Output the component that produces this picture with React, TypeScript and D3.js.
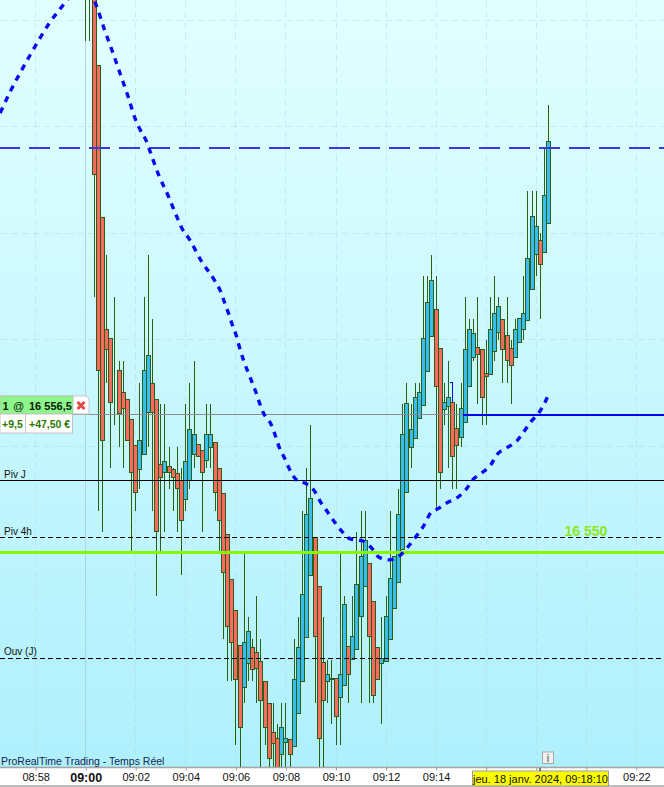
import React, { useEffect, useRef } from 'react';
import * as d3 from 'd3';

const WIDTH = 664;
const HEIGHT = 787;
const PLOT_BOTTOM = 767;

// all prices below are points above this level, one candle every 10 seconds from 09:00:00
const BASE_PRICE = 16550;
const CANDLE_STEP_MIN = 1 / 6;

const opens = [
  30, 29, 27.5, 22.89, 15.72, 10.51, 10.05, 8.55, 8.55, 7.56, 7.19, 6.25, 5.03, 3.91, 4.61, 6.58,
  7.94, 7.19, 4.14, 3.81, 4.09, 3.95, 3.76, 3.39, 2.5, 3.39, 4.61, 5.08, 4.8, 4.33, 4.94, 5.18,
  3.97, 2.78, 0.86, -1.25, -2.69, -4.3, -6.27, -5.19, -4.44, -4.67, -5.05, -5.99, -7.06, -8.38, -8.66, -9.41,
  -8.85, -8.71, -9.08, -7.49, -5.99, -3.97, -1.06, 0.76, -1.58, -5.14, -6.03, -5.85, -5.89, -6.78, -6.22, -4.35,
  -5, -4.49, -2.94, -1.58, -0.5, -2.24, -4.44, -5.19, -5.05, -4.02, -2.61, -1.39, 0.2, 2.87, 4.98, 5.36,
  6.34, 6.95, 8.5, 10.14, 11.45, 9.62, 6.72, 6.86, 7.09, 5.83, 5.45, 6.11, 7.84, 9.2, 9.67, 9.53,
  8.41, 8.36, 9.44, 10.37, 10.94, 10.23, 9.62, 9.2, 9.86, 10.47, 10.89, 12.35, 14.03, 14.64, 14.08, 15.44,
];
const closes = [
  28, 27, 17.78, 8.55, 5.31, 9.53, 7.05, 8.55, 6.53, 6.78, 5.31, 3.81, 2.83, 5.31, 8.55, 9.25,
  6.58, 1, 3.53, 4.28, 3.81, 3.53, 3.06, 1.53, 4.28, 5.78, 5.55, 4.56, 3.78, 5.55, 5.55, 2.83,
  1.53, -0.92, -3.41, -4.16, -5.94, -8.19, -4.16, -3.69, -5.47, -5.42, -6.92, -8.19, -9.64, -8.94, -10.39, -8.19,
  -8.66, -9.41, -5.94, -4.44, -1.95, 1.8, 2.55, -3.91, -8.66, -6.92, -5.66, -5.94, -7.67, -5.66, -2.42, -5.66,
  -3.92, -1.44, -0.17, 0.58, -3.92, -6.69, -5.94, -4.91, -2.94, -1.2, -0.17, 1.8, 5.55, 7, 5.78, 7.28,
  7.56, 10.05, 11.78, 12.77, 7.8, 3.81, 7.05, 7.28, 4.56, 5.03, 6.81, 9.53, 10.51, 10.28, 9.3, 7.28,
  8.31, 10.51, 11.26, 11.55, 9.53, 9.06, 8.78, 10.51, 11.03, 11.26, 13.8, 15.77, 15.3, 13.52, 16.75, 19.29,
];
const highs = [
  31, 30, 28, 22.89, 15.72, 14, 10.05, 12, 9, 9, 7.19, 6.25, 5.03, 8, 12, 14,
  11, 7.19, 7, 7, 5, 4, 5, 4, 7, 8, 9, 5.08, 4.8, 7, 7, 5.18,
  3.97, 2.78, 0.86, -1.25, -2.69, -4.3, 0, -3, -4, -2, -4, -5.99, -7, -7, -8, -7,
  -7, -8.71, -4, -3, 2, 4, 6, 0.76, -1.58, -3, -5, -5, -5.89, 0, -2, -4.35,
  -2, 1, 2, 2, -0.5, -2.24, -4.44, -3, -2, 2, -0.17, 3, 7, 8, 7, 8,
  8, 13, 13, 14, 13, 9.62, 8, 9, 7.09, 7, 8, 12, 11, 11, 12, 9.53,
  10, 12, 13, 12, 10.94, 12, 10, 11, 11.03, 13, 17, 17, 17, 15, 19, 21,
];
const lows = [
  24, 24, 12, 2, 1, 8, 4, 6, 5, 4, 5.31, 0, 2, 3, 4.61, 5,
  2, -2, 0, 1, 3, 2, 1, -1, 2, 3, 4, 4.56, 1, 4, 4, 2,
  0, -4, -6, -6, -9, -10, -7, -6, -6, -7, -10, -9, -10, -10, -11, -10,
  -10, -10, -9.08, -7.49, -5.99, -3.97, -1.06, -7, -10, -10, -7, -8, -9, -9, -6.22, -7,
  -5, -4.49, -7, -1.58, -7, -7, -5.94, -8, -5.05, -4.02, -2.61, -1.39, 0.2, 2.87, 4, 5.36,
  6.34, 6.95, 8.5, 10.14, 2, 3, 6, 4, 3, 3, 5, 6.11, 7.84, 9, 7, 6,
  6, 8.36, 9, 10, 8, 8, 7, 9.2, 9.86, 10, 10.89, 12.35, 13, 11, 14.08, 15.44,
];

// moving average: minutes from 09:00, points above base
const maMinutes = [
  -3.42, -3.02, -2.62, -2.22, -1.82, -1.42, -1.02, -0.74, -0.22, 0.1, 0.42, 0.74, 1.06, 1.38, 1.7, 1.98,
  2.18, 2.42, 2.58, 2.9, 3.3, 3.66, 3.86, 4.14, 4.62, 5.14, 5.38, 5.54, 5.7, 5.86, 6.02, 6.14,
  6.78, 7.1, 7.42, 7.58, 7.74, 7.94, 8.14, 8.42, 8.82, 9.14, 9.38, 9.66, 9.94, 10.22, 10.58, 11.06,
  11.42, 11.7, 12.14, 12.58, 12.9, 13.18, 13.5, 13.78, 14.06, 14.42, 14.82, 15.18, 15.46, 15.82, 16.18, 16.42,
  16.82, 17.22, 17.5, 17.78, 18.1, 18.34, 18.5,
];
const maValues = [
  20.64, 21.63, 22.52, 23.36, 24.16, 24.91, 25.52, 25.94, 26.78, 26.5, 25.7, 24.58, 23.55, 22.47, 21.39, 20.36,
  19.84, 19.33, 18.81, 17.78, 16.75, 15.72, 15.2, 14.73, 13.7, 12.81, 12.3, 11.78, 11.27, 10.7, 10.19, 9.67,
  7.61, 6.58, 6.01, 5.5, 4.94, 4.47, 3.95, 3.44, 3.25, 2.92, 2.41, 1.94, 1.47, 1.05, 0.67, 0.58,
  0.25, -0.17, -0.31, -0.08, 0.34, 0.76, 1.28, 1.89, 2.08, 2.36, 2.59, 2.97, 3.44, 3.76, 4.14, 4.61,
  4.94, 5.26, 5.69, 6.16, 6.58, 7.05, 7.47,
];

const tickMinutes = [-2, 0, 2, 4, 6, 8, 10, 12, 14, 16, 18, 20, 22];
// 09:16 to 09:20 sit behind the yellow cursor date
const tickLabels = ['08:58', '09:00', '09:02', '09:04', '09:06', '09:08', '09:10', '09:12', '09:14', '', '', '', '09:22'];
const gridPoints = [25, 20, 15, 10, 5, 0, -5, -10];

const blueDashedLevel = 19;
const positionLevel = 6.5;
const alertLevel = 0.06;
const pivotLevels = [
  { label: 'Piv J', value: 3.39, dash: null },
  { label: 'Piv 4h', value: 0.72, dash: '5,3' },
  { label: 'Ouv (J)', value: -4.91, dash: '5,3' },
];

const FONT = '"Liberation Sans", Arial, sans-serif';
const WICK = '#2b5f12';

const App: React.FC = () => {
  const svgRef = useRef<SVGSVGElement>(null);

  useEffect(() => {
    if (!svgRef.current) return;
    const svg = d3.select(svgRef.current);
    svg.selectAll('*').remove();

    const x = d3.scaleLinear().domain([-3.424, 23.104]).range([0, WIDTH]);
    const y = d3.scaleLinear().domain([BASE_PRICE - 10, BASE_PRICE + 25]).range([766.6, 20]);
    const py = (points: number) => y(BASE_PRICE + points);
    const snap = (v: number) => Math.floor(v) + 0.5;

    const defs = svg.append('defs');
    const grad = defs.append('linearGradient').attr('id', 'bg').attr('x1', 0).attr('y1', 0).attr('x2', 0).attr('y2', 1);
    grad.append('stop').attr('offset', '0%').attr('stop-color', '#e2ffff');
    grad.append('stop').attr('offset', '100%').attr('stop-color', '#aff0fd');
    svg.append('rect').attr('width', WIDTH).attr('height', PLOT_BOTTOM).attr('fill', 'url(#bg)');

    // grid
    const grid = svg.append('g').attr('fill', 'none').attr('shape-rendering', 'crispEdges');
    grid.selectAll('line.h').data(gridPoints).enter().append('line')
      .attr('class', 'h')
      .attr('x1', 0).attr('x2', WIDTH)
      .attr('y1', (d) => py(d)).attr('y2', (d) => py(d))
      .attr('stroke', '#a8d4dc').attr('stroke-opacity', 0.4)
      .attr('stroke-dasharray', '7,4');
    grid.selectAll('line.v').data(tickMinutes).enter().append('line')
      .attr('class', 'v')
      .attr('x1', (d) => snap(x(d))).attr('x2', (d) => snap(x(d)))
      .attr('y1', 0).attr('y2', PLOT_BOTTOM)
      .attr('stroke-dasharray', (d) => (d === 0 ? null : '7,4'))
      .attr('stroke', (d) => (d === 0 ? '#a6ccd8' : '#a8d4dc'))
      .attr('stroke-opacity', (d) => (d === 0 ? 0.8 : 0.4));

    // candles
    const candles = svg.append('g').attr('shape-rendering', 'crispEdges');
    opens.forEach((open, i) => {
      const t = i * CANDLE_STEP_MIN;
      const close = closes[i];
      const cx = snap(x(t));
      candles.append('line')
        .attr('x1', cx).attr('x2', cx)
        .attr('y1', py(highs[i])).attr('y2', py(lows[i]))
        .attr('stroke', WICK).attr('stroke-width', 1);
      const top = py(Math.max(open, close));
      const bottom = py(Math.min(open, close));
      candles.append('rect')
        .attr('x', cx - 2).attr('width', 4)
        .attr('y', top).attr('height', bottom - top)
        .attr('fill', close > open ? '#38bdf0' : '#fb6a5f')
        .attr('stroke', WICK).attr('stroke-width', 1);
    });

    // order marker on the 09:15 candle
    const markerLine = d3.line<[number, number]>().x((d) => snap(x(d[0]))).y((d) => py(d[1]));
    svg.append('path')
      .attr('d', markerLine([[88 * CANDLE_STEP_MIN - 0.12, 8], [88 * CANDLE_STEP_MIN, 8], [88 * CANDLE_STEP_MIN, 7.09]]))
      .attr('fill', 'none').attr('stroke', '#0a0aee').attr('stroke-width', 1)
      .attr('shape-rendering', 'crispEdges');

    // levels
    pivotLevels.forEach((d) => {
      svg.append('line')
        .attr('x1', 0).attr('x2', WIDTH)
        .attr('y1', py(d.value)).attr('y2', py(d.value))
        .attr('stroke', '#000').attr('stroke-width', 1)
        .attr('stroke-dasharray', d.dash)
        .attr('shape-rendering', 'crispEdges');
      svg.append('text')
        .attr('x', 4).attr('y', py(d.value) - 3)
        .attr('font-family', FONT).attr('font-size', 10).attr('fill', '#111')
        .text(d.label);
    });
    svg.append('line')
      .attr('x1', 0).attr('x2', WIDTH)
      .attr('y1', py(alertLevel)).attr('y2', py(alertLevel))
      .attr('stroke', '#86f700').attr('stroke-width', 3)
      .attr('shape-rendering', 'crispEdges');
    svg.append('text')
      .attr('x', 586).attr('y', py(alertLevel) - 16)
      .attr('text-anchor', 'middle')
      .attr('font-family', FONT).attr('font-size', 14).attr('font-weight', 700).attr('fill', '#8ce820')
      .text('16 550');

    svg.append('line')
      .attr('x1', 0).attr('x2', x(90.5 * CANDLE_STEP_MIN))
      .attr('y1', py(positionLevel)).attr('y2', py(positionLevel))
      .attr('stroke', '#8c8c8c').attr('stroke-width', 1)
      .attr('shape-rendering', 'crispEdges');
    svg.append('line')
      .attr('x1', x(90.5 * CANDLE_STEP_MIN)).attr('x2', WIDTH)
      .attr('y1', py(positionLevel)).attr('y2', py(positionLevel))
      .attr('stroke', '#0505ee').attr('stroke-width', 2)
      .attr('shape-rendering', 'crispEdges');

    svg.append('line')
      .attr('x1', 0).attr('x2', WIDTH)
      .attr('y1', py(blueDashedLevel)).attr('y2', py(blueDashedLevel))
      .attr('stroke', '#3a36e0').attr('stroke-width', 2)
      .attr('stroke-dasharray', '21,9').attr('stroke-dashoffset', 1)
      .attr('shape-rendering', 'crispEdges');

    // moving average
    const maLine = d3.line<number>()
      .x((d) => x(d))
      .y((_, i) => py(maValues[i]))
      .curve(d3.curveMonotoneX);
    svg.append('path')
      .attr('d', maLine(maMinutes))
      .attr('fill', 'none').attr('stroke', '#0a0af0').attr('stroke-width', 3.4)
      .attr('stroke-dasharray', '6,6');

    // position box
    const box = svg.append('g').attr('font-family', FONT);
    box.append('path')
      .attr('d', 'M0,396 H85 Q89,396 89,400 V414 H0 Z')
      .attr('fill', '#fff').attr('stroke', '#c8c8c8').attr('stroke-width', 1);
    box.append('path')
      .attr('d', 'M0,396 H73 V414 H0 Z')
      .attr('fill', '#8df58a').attr('stroke', '#b4c8b4').attr('stroke-width', 1);
    box.append('rect').attr('x', 0).attr('y', 414).attr('width', 72.5).attr('height', 19)
      .attr('fill', '#fff').attr('stroke', '#c4c4c4').attr('stroke-width', 1);
    box.append('line').attr('x1', 25.5).attr('x2', 25.5).attr('y1', 414).attr('y2', 433).attr('stroke', '#c4c4c4');
    box.append('text').attr('x', 2.5).attr('y', 410).attr('font-size', 11).attr('font-weight', 700).attr('fill', '#0a200a')
      .text('1');
    box.append('text').attr('x', 13).attr('y', 410).attr('font-size', 11).attr('font-weight', 400).attr('fill', '#0a200a')
      .text('@');
    box.append('text').attr('x', 29).attr('y', 410).attr('font-size', 11).attr('font-weight', 700).attr('fill', '#0a200a')
      .text('16 556,5');
    box.append('text').attr('x', 2).attr('y', 428).attr('font-size', 10.5).attr('font-weight', 700).attr('fill', '#2c7a00')
      .text('+9,5');
    box.append('text').attr('x', 29).attr('y', 428).attr('font-size', 10.5).attr('font-weight', 700).attr('fill', '#2c7a00')
      .text('+47,50 €');
    box.append('path')
      .attr('d', 'M77.5,402 L84.5,409 M84.5,402 L77.5,409')
      .attr('stroke', '#e24a4a').attr('stroke-width', 3);

    // axis band
    svg.append('rect').attr('x', 0).attr('y', PLOT_BOTTOM).attr('width', WIDTH).attr('height', HEIGHT - PLOT_BOTTOM).attr('fill', '#fff');
    svg.append('line').attr('x1', 0).attr('x2', WIDTH).attr('y1', 767.5).attr('y2', 767.5).attr('stroke', '#a6a6a6').attr('stroke-width', 1.4);
    svg.append('line').attr('x1', 0).attr('x2', WIDTH).attr('y1', 786).attr('y2', 786).attr('stroke', '#a6a6a6').attr('stroke-width', 1.4);

    const axis = d3.axisBottom(x)
      .tickValues(tickMinutes)
      .tickSize(3.5)
      .tickPadding(2.5)
      .tickFormat((_, i) => tickLabels[i]);
    const axisG = svg.append('g').attr('transform', `translate(0,${PLOT_BOTTOM})`).call(axis as any);
    axisG.select('.domain').remove();
    axisG.selectAll('.tick line').attr('stroke', '#a0a0a0');
    axisG.selectAll('.tick text')
      .attr('font-family', FONT).attr('font-size', 11).attr('fill', '#111')
      .attr('font-weight', (d: any) => (d === 0 ? 700 : 400))
      .style('font-size', (d: any) => (d === 0 ? '12.5px' : '11px'));

    // cursor date
    svg.append('rect').attr('x', 472.5).attr('y', 771).attr('width', 136).attr('height', 15)
      .attr('fill', '#fbfb00').attr('stroke', '#9aa0a0').attr('stroke-width', 1);
    svg.append('text')
      .attr('x', 540.5).attr('y', 782.5).attr('text-anchor', 'middle')
      .attr('font-family', FONT).attr('font-size', 11).attr('fill', '#111')
      .text('jeu. 18 janv. 2024, 09:18:10');
    svg.append('line').attr('x1', 540).attr('x2', 540).attr('y1', 768).attr('y2', 771).attr('stroke', '#000');

    // info icon + footer
    svg.append('rect').attr('x', 542.5).attr('y', 752).attr('width', 11).attr('height', 11.5)
      .attr('fill', '#f0f0f0').attr('stroke', '#a8a8a8');
    svg.append('text').attr('x', 548).attr('y', 762).attr('text-anchor', 'middle')
      .attr('font-family', FONT).attr('font-size', 10).attr('font-weight', 700).attr('fill', '#808080')
      .text('i');
    svg.append('text').attr('x', 1).attr('y', 765)
      .attr('font-family', FONT).attr('font-size', 10.5).attr('fill', '#16264e')
      .text('ProRealTime Trading - Temps Réel');
  }, []);

  return (
    <div style={{ position: 'fixed', left: 0, top: 0, width: WIDTH, height: HEIGHT }}>
      <svg ref={svgRef} width={WIDTH} height={HEIGHT} style={{ display: 'block' }} />
    </div>
  );
};

export default App;
